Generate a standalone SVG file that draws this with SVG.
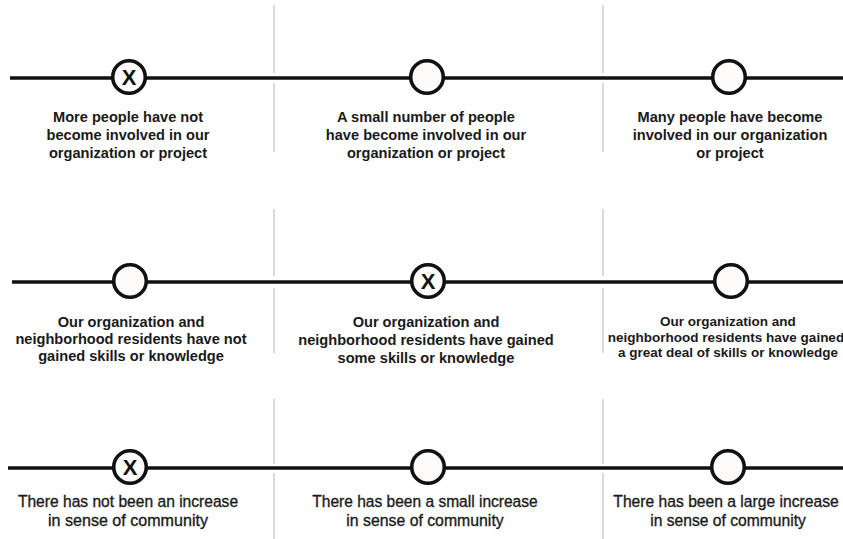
<svg xmlns="http://www.w3.org/2000/svg" width="843" height="539" viewBox="0 0 843 539">
<style>
.bg{fill:#ffffff}
.div{stroke:#d2d2d2;stroke-width:1.6;fill:none}
.axis{stroke:#111111;stroke-width:3.5;fill:none}
.node{fill:#fdfcfa;stroke:#111111;stroke-width:3.6}
.x{font-family:"Liberation Sans",Arial,sans-serif;font-weight:bold;font-size:22px;fill:#111111;text-anchor:middle}
.t{font-family:"Liberation Sans",Arial,sans-serif;font-weight:bold;font-size:14.6px;fill:#1a1a1a;text-anchor:middle}
.ts{font-family:"Liberation Sans",Arial,sans-serif;font-weight:bold;font-size:13.5px;fill:#1a1a1a;text-anchor:middle}
.tc{font-family:"Liberation Sans",Arial,sans-serif;font-size:17px;fill:#1a1a1a;stroke:#1a1a1a;stroke-width:0.35;text-anchor:middle}
</style>
<rect class="bg" x="0" y="0" width="843" height="539"/>
<g id="dividers">
<path class="div" d="M274 5V73M274 83V152M603 5V73M603 83V152"/>
<path class="div" d="M274 209V276M274 288V353M603 209V276M603 288V353"/>
<path class="div" d="M274 399V464M274 473V539M603 399V464M603 473V539"/>
</g>
<g id="connectors">
<line class="axis" x1="10" y1="78" x2="843" y2="78"/>
<line class="axis" x1="12" y1="282" x2="843" y2="282"/>
<line class="axis" x1="8" y1="468" x2="843" y2="468"/>
</g>
<g id="r1c1">
<circle class="node" cx="129" cy="77" r="16.3"/>
<text class="x" x="129" y="85">X</text>
<text class="t" x="128" y="122">More people have not</text>
<text class="t" x="128" y="140">become involved in our</text>
<text class="t" x="128" y="158">organization or project</text>
</g>
<g id="r1c2">
<circle class="node" cx="427" cy="77" r="16.3"/>
<text class="t" x="426" y="122">A small number of people</text>
<text class="t" x="426" y="140">have become involved in our</text>
<text class="t" x="426" y="158">organization or project</text>
</g>
<g id="r1c3">
<circle class="node" cx="729" cy="77" r="16.3"/>
<text class="t" x="730" y="122">Many people have become</text>
<text class="t" x="730" y="140">involved in our organization</text>
<text class="t" x="730" y="158">or project</text>
</g>
<g id="r2c1">
<circle class="node" cx="130" cy="281" r="16.3"/>
<text class="t" x="131" y="327">Our organization and</text>
<text class="t" x="131" y="344">neighborhood residents have not</text>
<text class="t" x="131" y="361">gained skills or knowledge</text>
</g>
<g id="r2c2">
<circle class="node" cx="428" cy="281" r="16.3"/>
<text class="x" x="428" y="289">X</text>
<text class="t" x="426" y="327">Our organization and</text>
<text class="t" x="426" y="345">neighborhood residents have gained</text>
<text class="t" x="426" y="363">some skills or knowledge</text>
</g>
<g id="r2c3">
<circle class="node" cx="731" cy="281" r="16.3"/>
<text class="ts" x="728" y="326">Our organization and</text>
<text class="ts" x="726" y="342">neighborhood residents have gained</text>
<text class="ts" x="728" y="357">a great deal of skills or knowledge</text>
</g>
<g id="r3c1">
<circle class="node" cx="130" cy="467" r="16.3"/>
<text class="x" x="130" y="475">X</text>
<text class="tc" transform="translate(128 507) scale(0.86 1)" textLength="256" lengthAdjust="spacingAndGlyphs">There has not been an increase</text>
<text class="tc" transform="translate(128 526) scale(0.86 1)" textLength="186" lengthAdjust="spacingAndGlyphs">in sense of community</text>
</g>
<g id="r3c2">
<circle class="node" cx="428" cy="467" r="16.3"/>
<text class="tc" transform="translate(425 507) scale(0.86 1)" textLength="262" lengthAdjust="spacingAndGlyphs">There has been a small increase</text>
<text class="tc" transform="translate(425 526) scale(0.86 1)" textLength="183" lengthAdjust="spacingAndGlyphs">in sense of community</text>
</g>
<g id="r3c3">
<circle class="node" cx="728" cy="467" r="16.3"/>
<text class="tc" transform="translate(726 507) scale(0.86 1)" textLength="262" lengthAdjust="spacingAndGlyphs">There has been a large increase</text>
<text class="tc" transform="translate(728 526) scale(0.86 1)" textLength="181" lengthAdjust="spacingAndGlyphs">in sense of community</text>
</g>
</svg>
